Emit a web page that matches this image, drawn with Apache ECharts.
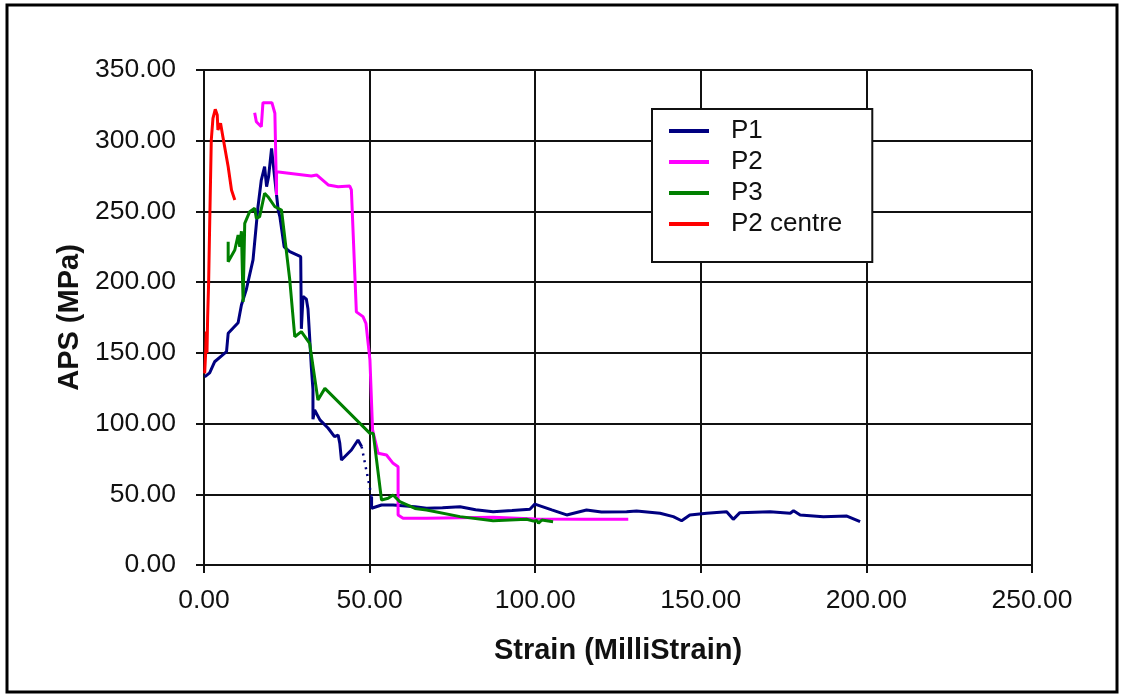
<!DOCTYPE html>
<html>
<head>
<meta charset="utf-8">
<script src="https://cdn.jsdelivr.net/npm/echarts@6/dist/echarts.min.js"></script>
<style>
  html, body { margin: 0; padding: 0; background: #fff; }
  #chart { width: 1121px; height: 695px; }
</style>
</head>
<body>
<div id="chart"></div>
<script>
// Strain (MilliStrain) vs APS (MPa), one [strain, aps] pair per reading
const p1 = [
  [0.2,133],[1.7,135.8],[3.2,143.7],[5.3,147.8],[6.8,150.8],[7.3,163.8],[10.3,171.3],[11.3,183.8],
  [12.8,195],[14.8,215.7],[16.3,253.3],[17.3,272.2],[18.3,281.6],[18.9,267.5],[19.5,274.5],[20.4,294.6],
  [21.1,279],[22.4,251],[22.9,246.3],[24.2,225],[25.9,221.5],[29.2,218],[29.4,167],[29.9,190],
  [30.9,188],[31.4,181],[31.9,161],[32.4,140],[32.9,124],[32.9,103],[33.4,109.6],[35,102.6],
  [37.5,96.7],[39.4,90.7],[40.5,91.9],[41,86],[41.5,74.2],[44.5,81.3],[46.5,88.4],[47.6,83.7],
  null,
  [50.6,48.3],[50.6,40.1],[53.6,42.4],[57.1,42.4],[57.6,43.1],[63.7,41.2],[67.2,40.1],[72,40.5],
  [77.3,41.2],[82,39],[87.3,37.7],[93,38.5],[98.4,39.4],[99.9,43.1],[100.4,43.1],[105,39],
  [109.5,35.4],[115.5,38.9],[120,37.5],[127.6,37.7],[130.6,38.2],[137.7,36.6],[141.7,34.2],[144.2,31.3],
  [146.7,35.4],[151.8,36.6],[157.8,37.7],[159.8,32.3],[161.8,37],[170.9,37.7],[177,36.6],[178,38.4],
  [180,35.4],[187,34.2],[194.1,34.6],[198.1,30.6]
];
// P1 readings missing between these two points: joined by a dotted line
const p1Gap = [[47.6,83.7],[50.6,48.3]];

const p2 = [
  [15.3,319.8],[15.8,313.4],[17.3,309.9],[17.8,326.9],[20.5,326.9],[21.4,319.4],[21.9,318.2],[21.9,261.6],
  [21.9,278.1],[32.4,275],[34,275.8],[37.5,268.7],[40.5,267.5],[44,268],[44.5,265.2],[46,179],
  [48,175.6],[48.9,170.9],[50.1,145],[50.9,95.5],[52.6,79],[55.1,77.8],[57.1,71.9],[58.6,69.5],
  [58.6,35.4],[60.1,33],[67.2,33],[87.3,33.7],[100,32.5],[115,32.3],[128.1,32.3]
];

const p3 = [
  [7.3,228.6],[7.3,214.5],[9.3,222.7],[10.3,233.3],[10.8,225],[11.3,236],[11.8,186],[12.3,241.6],
  [13.8,249.8],[15.3,252.2],[15.8,245.1],[16.8,246.3],[18.3,262.8],[19.3,260.4],[21.4,253.3],[23.4,251],
  [25.9,201.5],[27.4,161.4],[29.4,165],[31.9,156.7],[34.4,116.7],[36.5,124.9],[50.1,93.1],[51.1,93.1],
  [53.6,46],[55.6,47.2],[57.1,49.5],[59.1,44.8],[63.7,40],[67.2,38.9],[77.3,34.2],[87.3,31.3],
  [97.4,32.3],[99.5,31],[100.5,31.5],[101,29.5],[102,31.8],[105.4,30.6]
];

const p2Centre = [
  [0.2,135.5],[0.5,150],[0.7,165],[0.9,150],[1.1,175],[1.4,200],[1.7,239],[2.2,300.5],
  [2.7,315.8],[3.4,322.2],[4.0,318.2],[4.2,307.6],[5.0,312.3],[5.7,302.8],[7.3,281.6],[8.3,265.2],
  [9.3,258.1]
];

const seriesNames = ['P1', 'P2', 'P3', 'P2 centre'];
const seriesColors = ['#000080', '#ff00ff', '#008000', '#ff0000'];

const FONT = 'Liberation Sans, Arial, sans-serif';
const fmt2 = v => v.toFixed(2);

const chart = echarts.init(document.getElementById('chart'), null, { renderer: 'canvas' });

function lineSeries(name, color, data, extra) {
  return Object.assign({
    name: name,
    type: 'line',
    data: data,
    symbol: 'none',
    connectNulls: false,
    animation: false,
    lineStyle: { color: color, width: 3 },
    itemStyle: { color: color }
  }, extra || {});
}

chart.setOption({
  backgroundColor: '#fff',
  animation: false,
  textStyle: { fontFamily: FONT },
  grid: { left: 204, right: 89, top: 70, bottom: 130, containLabel: false },
  graphic: [{
    type: 'rect',
    shape: { x: 7, y: 5, width: 1110, height: 687 },
    style: { fill: 'none', stroke: '#000', lineWidth: 3 },
    silent: true, z: -10
  }],
  legend: {
    data: seriesNames,
    orient: 'vertical',
    left: 652,
    top: 109,
    width: 218,
    padding: [8, 30, 24, 17],
    itemGap: 3,
    itemWidth: 40,
    itemHeight: 4,
    icon: 'rect',
    backgroundColor: '#fff',
    borderColor: '#111',
    borderWidth: 2,
    textStyle: {
      fontFamily: FONT, fontSize: 26, color: '#111',
      lineHeight: 28, padding: [0, 0, 0, 17]
    }
  },
  xAxis: {
    type: 'value',
    min: 0, max: 250, interval: 50,
    name: 'Strain (MilliStrain)',
    nameLocation: 'middle',
    nameGap: 71,
    nameTextStyle: { fontFamily: FONT, fontSize: 29, fontWeight: 'bold', color: '#111' },
    axisLine: { show: true, lineStyle: { color: '#111', width: 2 } },
    axisTick: { show: true, length: 8, lineStyle: { color: '#111', width: 2 } },
    axisLabel: { formatter: fmt2, fontFamily: FONT, fontSize: 26.5, color: '#111', margin: 22 },
    splitLine: { show: true, lineStyle: { color: '#111', width: 2 } }
  },
  yAxis: {
    type: 'value',
    min: 0, max: 350, interval: 50,
    name: 'APS (MPa)',
    nameLocation: 'middle',
    nameGap: 119,
    nameTextStyle: { fontFamily: FONT, fontSize: 29, fontWeight: 'bold', color: '#111' },
    axisLine: { show: true, lineStyle: { color: '#111', width: 2 } },
    axisTick: { show: true, length: 8, lineStyle: { color: '#111', width: 2 } },
    axisLabel: { formatter: fmt2, fontFamily: FONT, fontSize: 26.5, color: '#111', margin: 28 },
    splitLine: { show: true, lineStyle: { color: '#111', width: 2 } }
  },
  series: [
    lineSeries('P1', seriesColors[0], p1),
    lineSeries('P1', seriesColors[0], p1Gap, {
      lineStyle: { color: seriesColors[0], width: 2.5, type: [2, 5] }
    }),
    lineSeries('P2', seriesColors[1], p2),
    lineSeries('P3', seriesColors[2], p3),
    lineSeries('P2 centre', seriesColors[3], p2Centre)
  ]
});
</script>
</body>
</html>
